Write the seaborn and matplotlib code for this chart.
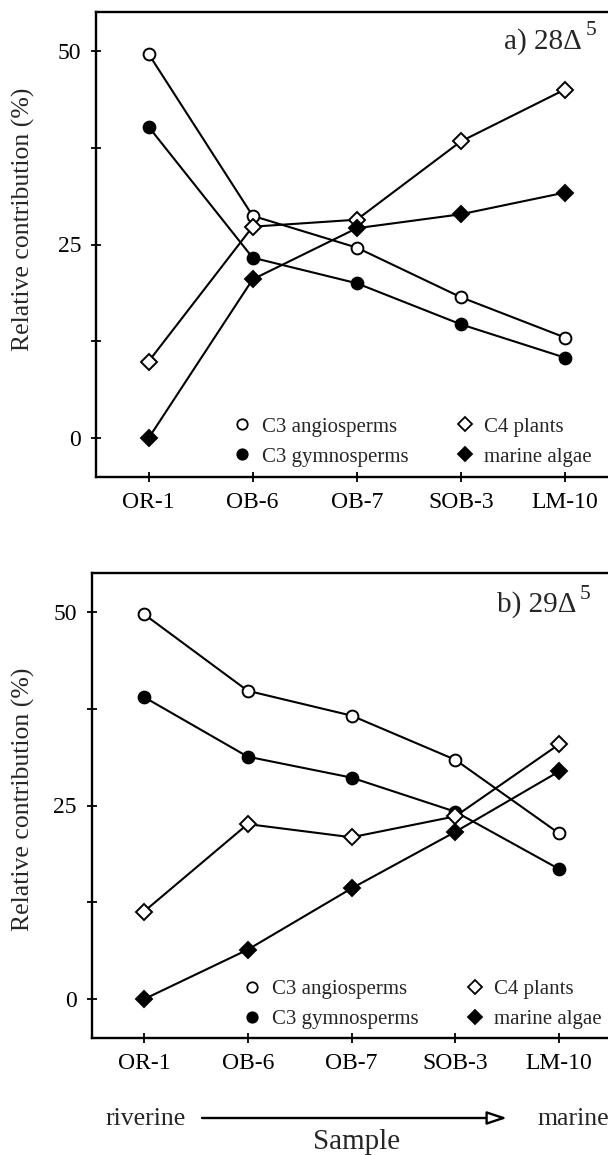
import numpy as np
import pandas as pd
import matplotlib
matplotlib.use("Agg")
import matplotlib.pyplot as plt
from matplotlib.lines import Line2D
import seaborn as sns

# ---------------- data ----------------
samples = ["OR-1", "OB-6", "OB-7", "SOB-3", "LM-10"]

# panel a) 28Δ5
a_c3_angio = [49.6, 28.7, 24.6, 18.2, 13.0]
a_c3_gymno = [40.2, 23.3, 20.0, 14.7, 10.4]
a_c4_plants = [9.9, 27.3, 28.2, 38.3, 45.0]
a_marine = [0.0, 20.5, 27.1, 28.9, 31.7]

# panel b) 29Δ5
b_c3_angio = [49.7, 39.8, 36.6, 30.9, 21.4]
b_c3_gymno = [39.0, 31.3, 28.6, 24.2, 16.8]
b_c4_plants = [11.3, 22.6, 20.9, 23.6, 32.9]
b_marine = [0.0, 6.4, 14.3, 21.6, 29.4]

# legend order (filled column-wise: col 1 = C3 types, col 2 = C4 / algae)
series_names = ["C3 angiosperms", "C3 gymnosperms", "C4 plants", "marine algae"]
y_ticks = [0, 12.5, 25, 37.5, 50]
y_ticklabels = ["0", "", "25", "", "50"]

# ---------------- style ----------------
sns.set_theme(style="ticks")
plt.rcParams["font.family"] = ["Liberation Serif", "DejaVu Serif"]
plt.rcParams["mathtext.fontset"] = "stix"

styles = {
    "C3 angiosperms": dict(marker="o", mfc="white"),
    "C3 gymnosperms": dict(marker="o", mfc="black"),
    "C4 plants": dict(marker="D", mfc="white"),
    "marine algae": dict(marker="D", mfc="black"),
}

W, H = 608, 1155
fig = plt.figure(figsize=(W / 100, H / 100), dpi=100)
fig.patch.set_facecolor("white")


def px_axes(left, top, right, bottom):
    return fig.add_axes([left / W, 1 - bottom / H, (right - left) / W, (bottom - top) / H])


ax_a = px_axes(96.5, 12, 617, 477)
ax_b = px_axes(92, 573, 611, 1038)

panels = [
    (ax_a, {"C3 angiosperms": a_c3_angio, "C3 gymnosperms": a_c3_gymno,
            "C4 plants": a_c4_plants, "marine algae": a_marine},
     "a) 28Δ", 0.922, (0.2636, 0.129), 0.555),
    (ax_b, {"C3 angiosperms": b_c3_angio, "C3 gymnosperms": b_c3_gymno,
            "C4 plants": b_c4_plants, "marine algae": b_marine},
     "b) 29Δ", 0.916, (0.292, 0.1264), 0.514),
]

for ax, data, title, ty, leg_anchor, ylab_y in panels:
    ax.set_facecolor("white")
    for i, (name, vals) in enumerate(data.items()):
        st = styles[name]
        sns.lineplot(x=samples, y=vals, ax=ax, color="black", linewidth=1.5,
                     marker=st["marker"], markersize=8.5, markerfacecolor=st["mfc"],
                     markeredgecolor="black", markeredgewidth=1.4,
                     legend=False, zorder=3 + i)
    ax.set_xlim(-0.5, 4.5)
    ax.set_ylim(-5, 55)
    ax.set_yticks(y_ticks)
    ax.set_yticklabels(y_ticklabels)
    ax.tick_params(axis="both", direction="inout", length=7, width=1.3,
                   labelsize=17, pad=7.5, color="black", labelcolor="black")
    for sp in ax.spines.values():
        sp.set_linewidth(1.7)
        sp.set_color("black")
    ax.set_xlabel("")
    ax.set_ylabel("Relative contribution (%)", fontsize=18.5, va="center")
    ax.yaxis.set_label_coords((23 - ax.get_position().x0 * W) /
                              (ax.get_position().width * W), ylab_y)
    # title with superscript
    ax.annotate(title, xy=(0.96, ty), xycoords="axes fraction",
                xytext=(-10, 0), textcoords="offset points",
                ha="right", va="baseline", fontsize=21)
    ax.annotate("5", xy=(0.96, ty), xycoords="axes fraction",
                xytext=(0, 9.4), textcoords="offset points",
                ha="right", va="baseline", fontsize=15.5)
    # legend
    handles = [Line2D([], [], linestyle="none", marker=styles[n]["marker"],
                      markerfacecolor=styles[n]["mfc"], markeredgecolor="black",
                      markeredgewidth=1.3, markersize=7.5 if styles[n]["marker"] == "o" else 7)
               for n in series_names]
    ax.legend(handles, series_names, ncol=2, loc="upper left",
              bbox_to_anchor=leg_anchor, frameon=False, fontsize=15,
              handlelength=0.8, handletextpad=0.55, columnspacing=2.3,
              labelspacing=0.5, borderpad=0, borderaxespad=0)

# bottom annotations
fig.text(105 / W, 1 - 1125 / H, "riverine", ha="left", va="baseline", fontsize=18.5)
fig.text(538 / W, 1 - 1125 / H, "marine", ha="left", va="baseline", fontsize=18.5)
fig.text(357 / W, 1 - 1149 / H, "Sample", ha="center", va="baseline", fontsize=21)
fig.patches.append(matplotlib.patches.FancyArrowPatch(
    (202 / W, 1 - 1118 / H), (507 / W, 1 - 1118 / H), transform=fig.transFigure,
    arrowstyle="-|>,head_length=0.6,head_width=0.2", mutation_scale=20,
    facecolor="white", edgecolor="black", linewidth=1.7, shrinkA=0, shrinkB=0))

fig.savefig("out.png", dpi=100, facecolor="white")
